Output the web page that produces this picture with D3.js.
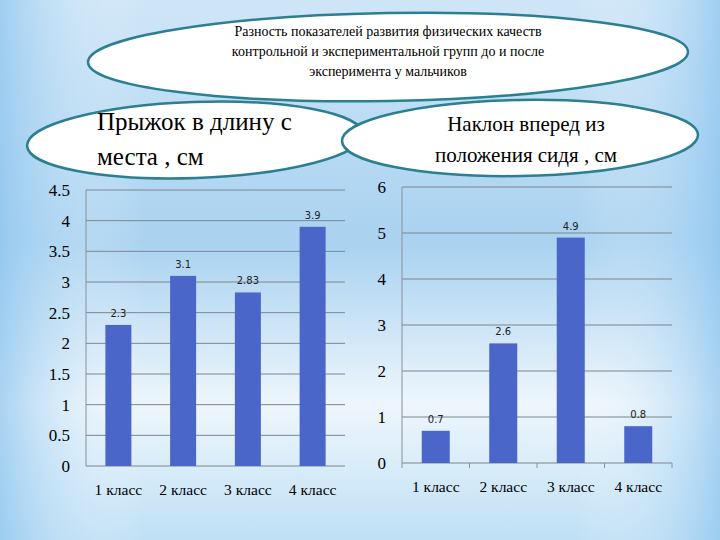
<!DOCTYPE html>
<html>
<head>
  <meta charset="utf-8">
  <style>body{margin:0;overflow:hidden} svg text{font-family:"Liberation Serif","Times New Roman","DejaVu Serif",serif} svg text.dl{font-family:"DejaVu Sans",sans-serif}</style>
</head>
<body>
  <script src="https://d3js.org/d3.v7.min.js"></script>
  <script>
    var classes = ["1 класс", "2 класс", "3 класс", "4 класс"];
    var jumpValues = [2.3, 3.1, 2.83, 3.9];
    var jumpTicks = [0, 0.5, 1, 1.5, 2, 2.5, 3, 3.5, 4, 4.5];
    var bendValues = [0.7, 2.6, 4.9, 0.8];
    var bendTicks = [0, 1, 2, 3, 4, 5, 6];
    var titleLines = ["Разность  показателей развития физических качеств",
      "контрольной и экспериментальной групп до и после",
      "эксперимента  у мальчиков"];

    var W = 720, H = 540;
    var svg = d3.select("body").append("svg").attr("width", W).attr("height", H);

    var defs = svg.append("defs");
    var bg = defs.append("linearGradient").attr("id", "bg").attr("x1", 0).attr("y1", 0).attr("x2", 0).attr("y2", 1);
    bg.append("stop").attr("offset", "0").attr("stop-color", "#cfe6f7");
    bg.append("stop").attr("offset", "0.45").attr("stop-color", "#a9d2f0");
    bg.append("stop").attr("offset", "0.75").attr("stop-color", "#eef6fc");
    bg.append("stop").attr("offset", "1").attr("stop-color", "#bfe0f5");
    var side = defs.append("linearGradient").attr("id", "side").attr("x1", 0).attr("x2", 1);
    side.append("stop").attr("offset", "0").attr("stop-color", "#8cc4ee").attr("stop-opacity", 0.7);
    side.append("stop").attr("offset", "0.2").attr("stop-color", "#fff").attr("stop-opacity", 0);
    side.append("stop").attr("offset", "0.8").attr("stop-color", "#fff").attr("stop-opacity", 0);
    side.append("stop").attr("offset", "1").attr("stop-color", "#8cc4ee").attr("stop-opacity", 0.7);
    svg.append("rect").attr("width", W).attr("height", H).attr("fill", "url(#bg)");
    svg.append("rect").attr("width", W).attr("height", H).attr("fill", "url(#side)");

    function ellipse(cx, cy, rx, ry, rot) {
      svg.append("ellipse").attr("cx", cx).attr("cy", cy).attr("rx", rx).attr("ry", ry)
        .attr("transform", "rotate(" + rot + "," + cx + "," + cy + ")")
        .attr("fill", "#fff").attr("stroke", "#2b7f90").attr("stroke-width", 2.5);
    }
    ellipse(388, 57, 300, 44, -1);
    titleLines.forEach(function(t, i) {
      svg.append("text").attr("x", 388).attr("y", 36 + i * 20).attr("text-anchor", "middle")
        .attr("font-size", 14).text(t);
    });
    ellipse(195, 140, 168, 38, -2);
    svg.append("text").attr("x", 97).attr("y", 130).attr("font-size", 25).text("Прыжок в длину с");
    svg.append("text").attr("x", 97).attr("y", 165).attr("font-size", 25).text("места , см");
    ellipse(520, 138, 178, 38, -1);
    svg.append("text").attr("x", 526).attr("y", 131).attr("text-anchor", "middle").attr("font-size", 21).text("Наклон вперед из");
    svg.append("text").attr("x", 526).attr("y", 162).attr("text-anchor", "middle").attr("font-size", 21).text("положения сидя , см");

    function chart(values, ticks, x0, x1, yTop, yBot, maxV, barW, tickMarks) {
      var x = d3.scaleBand().domain(classes).range([x0, x1]);
      var y = d3.scaleLinear().domain([0, maxV]).range([yBot, yTop]);
      var g = svg.append("g");
      g.selectAll(".grid").data(ticks).enter().append("line")
        .attr("x1", x0).attr("x2", x1).attr("y1", function(d) { return y(d); }).attr("y2", function(d) { return y(d); })
        .attr("stroke", "#7d8590").attr("stroke-width", 1);
      g.append("line").attr("x1", x0).attr("x2", x0).attr("y1", yTop).attr("y2", yBot).attr("stroke", "#8a9099");
      g.selectAll(".yl").data(ticks).enter().append("text")
        .attr("x", x0 - 16).attr("y", function(d) { return y(d) + 6; }).attr("text-anchor", "end")
        .attr("font-size", 17).text(function(d) { return d; });
      if (tickMarks) {
        g.selectAll(".tm").data(classes.concat(["end"])).enter().append("line")
          .attr("x1", function(d, i) { return x0 + i * x.step(); }).attr("x2", function(d, i) { return x0 + i * x.step(); })
          .attr("y1", yBot).attr("y2", yBot + 5).attr("stroke", "#8a9099");
      }
      g.selectAll(".bar").data(values).enter().append("rect")
        .attr("x", function(d, i) { return x(classes[i]) + x.bandwidth() / 2 - barW / 2; })
        .attr("y", function(d) { return y(d); }).attr("width", barW)
        .attr("height", function(d) { return yBot - y(d); }).attr("fill", "#4a66c8");
      g.selectAll(".dl").data(values).enter().append("text").attr("class", "dl")
        .attr("x", function(d, i) { return x(classes[i]) + x.bandwidth() / 2; })
        .attr("y", function(d) { return y(d) - 8; }).attr("text-anchor", "middle")
        .attr("font-size", 10).attr("fill", "#222")
        .text(function(d) { return d; });
      g.selectAll(".xl").data(classes).enter().append("text")
        .attr("x", function(d) { return x(d) + x.bandwidth() / 2; }).attr("y", yBot + 29)
        .attr("text-anchor", "middle").attr("font-size", 15.5).text(function(d) { return d; });
    }
    chart(jumpValues, jumpTicks, 86, 345, 190, 466, 4.5, 26, false);
    chart(bendValues, bendTicks, 402, 672, 187, 463, 6, 28, true);
  </script>
</body>
</html>
